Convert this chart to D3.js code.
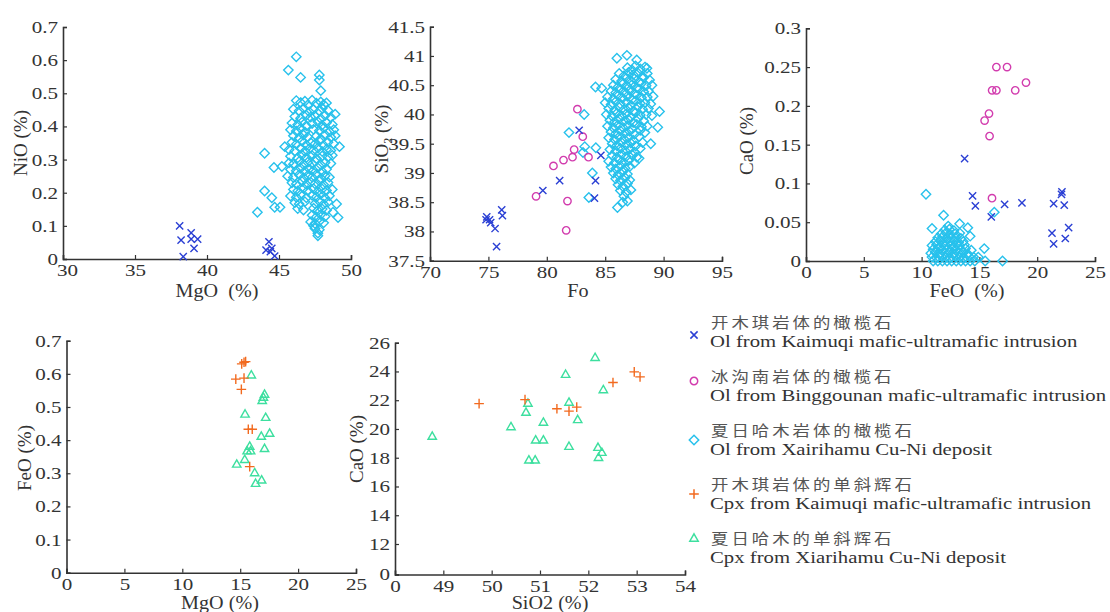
<!DOCTYPE html>
<html><head><meta charset="utf-8">
<script src="https://cdn.jsdelivr.net/npm/d3@7"></script>
<style>body{margin:0;background:#fff} svg{display:block;background:#fff}</style>
</head><body><svg id="c" width="1110" height="612"></svg>
<script>
// ---------------- DATA ----------------
const seriesNames = ["olKaimuqi", "olBinggounan", "olXiarihamu", "cpxKaimuqi", "cpxXiarihamu"];
const legendCN = ["开木琪岩体的橄榄石", "冰沟南岩体的橄榄石", "夏日哈木岩体的橄榄石", "开木琪岩体的单斜辉石", "夏日哈木的单斜辉石"];
const legendEN = ["Ol from Kaimuqi mafic-ultramafic intrusion", "Ol from Binggounan mafic-ultramafic intrusion", "Ol from Xairihamu Cu-Ni deposit", "Cpx from Kaimuqi mafic-ultramafic intrusion", "Cpx from Xiarihamu Cu-Ni deposit"];

// Panel 1: MgO (%) vs NiO (%)
const p1Kaimuqi = [[38.1,0.10],[38.2,0.057],[38.9,0.079],[38.9,0.06],[39.35,0.06],[39.1,0.032],[38.35,0.007],[44.3,0.052],[44.1,0.027],[44.5,0.032],[44.4,0.022],[44.7,0.009]];
const p1Xiarihamu = [[46.2,0.61],[45.65,0.57],[46.5,0.548],[47.8,0.555],[47.8,0.54],[47.9,0.508],[44.0,0.319],[44.0,0.205],[44.5,0.185],[43.5,0.141],[44.7,0.156],[45.07,0.156],[44.65,0.276],[45.4,0.339],[45.2,0.279],[48.9,0.437],[49.2,0.339],[49.0,0.166],[49.1,0.125],[48.75,0.141],[47.7,0.07],[47.4,0.10],
[46.2,.478],[46.5,.472],[46.8,.476],[47.0,.465],[47.3,.479],[47.6,.47],[47.9,.474],[48.1,.466],[48.3,.471],
[46.0,.452],[46.4,.447],[46.7,.455],[47.1,.444],[47.4,.451],[47.8,.446],[48.0,.455],[48.4,.448],
[46.1,.43],[46.5,.425],[46.9,.434],[47.2,.428],[47.5,.432],[47.9,.424],[48.2,.433],[48.6,.427],
[45.9,.41],[46.3,.405],[46.6,.413],[46.9,.402],[47.3,.409],[47.7,.414],[48.0,.404],[48.3,.411],[48.7,.406],
[45.8,.39],[46.2,.386],[46.5,.394],[46.8,.383],[47.4,.391],[47.8,.387],[48.1,.395],[48.5,.384],[48.8,.39],
[46.0,.372],[46.4,.365],[46.7,.374],[47.0,.368],[47.6,.371],[47.9,.363],[48.2,.375],[48.6,.367],[48.9,.372],
[45.9,.352],[46.2,.346],[46.6,.355],[46.9,.344],[47.2,.351],[47.5,.347],[47.8,.356],[48.1,.343],[48.4,.352],[48.8,.348],
[45.7,.33],[46.1,.326],[46.5,.334],[46.8,.325],[47.1,.333],[47.4,.328],[47.7,.335],[48.0,.324],[48.3,.331],[48.6,.327],
[45.8,.31],[46.3,.305],[46.6,.314],[46.9,.306],[47.3,.312],[47.6,.303],[48.0,.311],[48.4,.307],[48.7,.313],
[45.7,.29],[46.0,.286],[46.4,.294],[46.7,.285],[47.0,.292],[47.3,.287],[47.5,.295],[47.9,.284],[48.2,.291],[48.6,.288],
[45.8,.27],[46.2,.266],[46.5,.274],[46.8,.265],[47.1,.272],[47.4,.267],[47.7,.275],[48.0,.264],[48.3,.271],
[45.6,.25],[46.0,.246],[46.4,.254],[46.7,.245],[47.0,.252],[47.3,.247],[47.6,.255],[47.9,.244],[48.2,.251],[48.5,.247],
[45.9,.23],[46.2,.226],[46.6,.234],[46.9,.225],[47.2,.232],[47.5,.227],[47.8,.235],[48.1,.224],[48.4,.231],
[46.0,.21],[46.3,.205],[46.7,.213],[47.0,.206],[47.4,.212],[47.7,.204],[48.0,.211],[48.3,.207],[48.7,.21],
[45.8,.19],[46.2,.186],[46.5,.194],[46.9,.185],[47.3,.192],[47.6,.187],[47.9,.195],[48.2,.184],[48.5,.191],
[46.1,.17],[46.4,.166],[46.8,.173],[47.5,.167],[47.8,.174],[48.1,.165],[48.4,.172],
[46.3,.152],[46.7,.148],[47.4,.153],[47.7,.146],[48.0,.151],[48.3,.147],
[47.3,.132],[47.6,.127],[47.9,.134],[48.2,.128],
[47.2,.112],[47.5,.107],[47.8,.114],[48.1,.109],
[47.5,.092],[47.8,.088],[47.7,.078]];

// Panel 2: Fo vs SiO2 (%)
const p2Kaimuqi = [[74.86,38.25],[75.1,38.2],[74.8,38.2],[75.2,38.15],[76.14,38.37],[76.2,38.27],[75.57,38.05],[75.7,37.74],[79.66,38.7],[81.1,38.87],[82.77,39.73],[84.63,39.3],[84.17,38.87],[84.08,38.57]];
const p2Binggounan = [[82.62,40.09],[83.08,39.62],[82.34,39.4],[82.2,39.27],[81.43,39.22],[80.57,39.12],[83.57,39.27],[79.08,38.6],[81.77,38.52],[81.66,38.02]];
const p2Xiarihamu = [[83.2,40.0],[81.9,39.69],[83.25,39.45],[83.1,39.35],[83.9,39.0],[83.6,38.58],[84.2,39.43],[86.05,38.41],[86.5,38.5],[86.9,38.52],[86.0,40.96],[86.86,41.01],[87.7,40.93],[88.57,40.79],[89.65,40.05],[89.5,39.78],[88.9,39.5],[87.9,39.25],[84.17,40.47],[84.7,40.45],
[86.9,40.8],[87.3,40.76],[87.6,40.83],[88.0,40.78],[88.4,40.81],
[86.2,40.7],[86.6,40.66],[87.0,40.72],[87.4,40.68],[87.8,40.71],[88.2,40.65],[88.6,40.7],
[85.9,40.6],[86.4,40.57],[86.8,40.62],[87.2,40.58],[87.5,40.61],[87.9,40.56],[88.3,40.63],[88.8,40.59],
[85.7,40.5],[86.1,40.47],[86.5,40.52],[86.9,40.48],[87.3,40.51],[87.7,40.46],[88.1,40.53],[88.5,40.49],[89.0,40.5],
[85.5,40.4],[85.9,40.37],[86.3,40.42],[86.7,40.38],[87.1,40.41],[87.5,40.36],[87.9,40.43],[88.3,40.39],[88.7,40.4],
[85.2,40.3],[85.7,40.27],[86.1,40.32],[86.5,40.28],[86.9,40.31],[87.3,40.26],[87.7,40.33],[88.1,40.29],[88.6,40.3],[89.1,40.31],
[85.0,40.2],[85.5,40.17],[85.9,40.22],[86.3,40.18],[86.8,40.21],[87.2,40.16],[87.6,40.23],[88.0,40.19],[88.4,40.2],[88.9,40.18],
[85.3,40.1],[85.8,40.07],[86.2,40.12],[86.6,40.08],[87.0,40.11],[87.4,40.06],[87.8,40.13],[88.2,40.09],[88.7,40.1],
[85.1,40.0],[85.6,39.97],[86.0,40.02],[86.4,39.98],[86.8,40.01],[87.2,39.96],[87.6,40.03],[88.0,39.99],[88.5,40.0],[89.0,39.98],
[85.4,39.9],[85.8,39.87],[86.2,39.92],[86.6,39.88],[87.0,39.91],[87.4,39.86],[87.8,39.93],[88.3,39.89],
[85.2,39.8],[85.7,39.77],[86.1,39.82],[86.5,39.78],[86.9,39.81],[87.3,39.76],[87.7,39.83],[88.1,39.79],[88.6,39.8],
[85.5,39.7],[85.9,39.67],[86.3,39.72],[86.7,39.68],[87.1,39.71],[87.5,39.66],[88.0,39.73],[88.4,39.69],
[85.3,39.6],[85.8,39.57],[86.2,39.62],[86.6,39.58],[87.0,39.61],[87.4,39.56],[87.9,39.62],
[85.6,39.5],[86.0,39.47],[86.4,39.52],[86.8,39.48],[87.2,39.51],[87.6,39.46],[88.2,39.52],
[85.4,39.4],[85.9,39.37],[86.3,39.42],[86.7,39.38],[87.1,39.41],[87.5,39.36],[88.0,39.42],
[85.6,39.3],[86.0,39.27],[86.4,39.32],[86.8,39.28],[87.3,39.31],[87.7,39.27],
[85.3,39.2],[85.8,39.17],[86.2,39.22],[86.6,39.18],[87.0,39.21],[87.5,39.17],
[85.5,39.1],[85.9,39.07],[86.3,39.12],[86.7,39.08],[87.1,39.11],
[85.7,39.0],[86.1,38.97],[86.5,39.02],[86.9,38.98],
[85.9,38.9],[86.3,38.87],[86.7,38.92],[87.1,38.88],
[86.1,38.8],[86.5,38.77],[86.9,38.82],
[86.3,38.7],[86.8,38.67],[87.2,38.71],
[86.6,38.6]];

// Panel 3: FeO (%) vs CaO (%)
const p3Kaimuqi = [[13.72,0.132],[14.41,0.084],[14.65,0.071],[16.03,0.057],[17.18,0.073],[18.68,0.075],[21.42,0.074],[22.14,0.089],[22.1,0.086],[22.34,0.072],[21.28,0.036],[21.42,0.022],[22.43,0.029],[22.72,0.043]];
const p3Binggounan = [[16.47,0.25],[17.39,0.25],[16.1,0.22],[16.47,0.22],[18.1,0.22],[19.03,0.23],[15.83,0.19],[15.45,0.181],[15.88,0.161],[16.09,0.081]];
const p3Xiarihamu = [[10.38,0.086],[11.9,0.059],[10.9,0.042],[13.29,0.048],[14.0,0.043],[14.2,0.032],[16.29,0.063],[15.42,0.016],[15.5,0],[17.0,0],[14.9,0.005],
[11.0,0],[11.4,0],[11.8,0],[12.2,0],[12.6,0],[13.0,0],[13.4,0],[13.8,0],[14.2,0],[14.6,0],
[10.9,.005],[11.3,.004],[11.7,.006],[12.1,.005],[12.5,.004],[12.9,.006],[13.3,.005],[13.7,.004],[14.1,.006],[14.5,.005],
[10.8,.01],[11.2,.011],[11.6,.009],[12.0,.01],[12.4,.011],[12.8,.009],[13.2,.01],[13.6,.011],[14.0,.009],
[11.0,.015],[11.4,.016],[11.8,.014],[12.2,.015],[12.6,.016],[13.0,.014],[13.4,.015],[13.8,.016],[14.3,.014],
[10.9,.02],[11.3,.021],[11.7,.019],[12.1,.02],[12.5,.021],[12.9,.019],[13.3,.02],[13.7,.021],
[11.2,.025],[11.6,.026],[12.0,.024],[12.4,.025],[12.8,.026],[13.2,.024],[13.6,.025],
[11.4,.03],[11.8,.031],[12.2,.029],[12.6,.03],[13.0,.031],[13.4,.029],
[11.7,.035],[12.1,.036],[12.5,.034],[12.9,.035],[13.3,.036],
[12.0,.04],[12.4,.041],[12.8,.039],
[12.3,.045]];

// Panel 4: MgO (%) vs FeO (%) (Cpx)
const p4CpxKaimuqi = [[15.33,0.635],[15.47,0.637],[15.13,0.63],[14.62,0.584],[15.33,0.587],[15.1,0.553],[15.7,0.433],[16.04,0.433],[15.82,0.32]];
const p4CpxXiarihamu = [[15.96,0.597],[17.1,0.539],[17.0,0.53],[16.9,0.52],[15.42,0.479],[17.2,0.469],[17.54,0.421],[16.82,0.412],[17.1,0.375],[15.82,0.382],[15.6,0.368],[15.9,0.368],[15.39,0.342],[14.7,0.328],[16.25,0.302],[16.85,0.28],[16.33,0.27]];

// Panel 5: SiO2 (%) vs CaO (%) (Cpx)
const p5CpxKaimuqi = [[49.74,21.76],[50.69,22.04],[51.35,21.41],[51.6,21.24],[51.76,21.52],[52.51,23.23],[52.95,23.97],[53.07,23.62]];
const p5CpxXiarihamu = [[48.77,19.5],[50.75,21.8],[50.71,21.17],[50.4,20.17],[51.07,20.48],[50.91,19.24],[51.07,19.24],[50.77,17.85],[50.9,17.85],[51.53,23.81],[52.14,24.98],[51.6,21.87],[51.78,20.66],[51.6,18.8],[52.31,22.74],[52.2,18.73],[52.28,18.38],[52.21,18.03]];

// Tick values
const p1XTicks = [30,35,40,45,50], p1YTicks = [0,0.1,0.2,0.3,0.4,0.5,0.6,0.7];
const p2XTicks = [70,75,80,85,90,95], p2YTicks = [37.5,38,38.5,39,39.5,40,40.5,41,41.5];
const p3XTicks = [0,5,10,15,20,25], p3YTicks = [0,0.05,0.1,0.15,0.2,0.25,0.3];
const p4XTicks = [0,5,10,15,20,25], p4YTicks = [0,0.1,0.2,0.3,0.4,0.5,0.6,0.7];
const p5XTicks = [0,49,50,51,52,53,54], p5YTicks = [0,12,14,16,18,20,22,24,26];

// ---------------- STYLE ----------------
const colors = {olKaimuqi:"#2a3fd4", olBinggounan:"#d23cae", olXiarihamu:"#27c1ec", cpxKaimuqi:"#f26a1f", cpxXiarihamu:"#3ddf9f"};
const markerOf = {olKaimuqi:"times", olBinggounan:"circle", olXiarihamu:"diamond", cpxKaimuqi:"plus", cpxXiarihamu:"triangle"};
const AX = "#333";
const SERIF = "'Liberation Serif','Times New Roman',serif";

function markerPath(type){
  switch(type){
    case "times": {const h=3.6; return `M${-h},${-h}L${h},${h}M${-h},${h}L${h},${-h}`;}
    case "plus": {const h=4.8; return `M${-h},0L${h},0M0,${-h}L0,${h}`;}
    case "diamond": {const h=4.7; return `M0,${-h}L${h},0L0,${h}L${-h},0Z`;}
    case "triangle": {const h=4.2; return `M0,${-h}L${h},${h*0.75}L${-h},${h*0.75}Z`;}
    case "circle": {const r=3.7; return `M${r},0A${r},${r},0,1,1,${-r},0A${r},${r},0,1,1,${r},0Z`;}
  }
}

const svg = d3.select("#c");
const fmt = d => String(+(+d).toFixed(3));

function widen(sel, s, dx){
  sel.each(function(d, i){
    const t = d3.select(this);
    const x = (+t.attr("x") || 0) + (dx ? dx(d, i) : 0), y = +t.attr("y") || 0;
    t.attr("x", null).attr("y", null).attr("transform", `translate(${x},${y}) scale(${s},1)`);
  });
}

function panel(cfg){
  const g = svg.append("g");
  const xa = g.append("g").attr("transform", `translate(0,${cfg.y.range()[0]})`)
    .call(d3.axisBottom(cfg.x).tickValues(cfg.xTicks).tickFormat(fmt).tickSizeInner(-4).tickSizeOuter(-4).tickPadding(5));
  const ya = g.append("g").attr("transform", `translate(${cfg.x.range()[0]},0)`)
    .call(d3.axisLeft(cfg.y).tickValues(cfg.yTicks).tickFormat(fmt).tickSizeInner(-4).tickSizeOuter(-4).tickPadding(5));
  [xa, ya].forEach(a => {
    a.attr("font-family", null).attr("font-size", null);
    a.select(".domain").attr("stroke", AX).attr("stroke-width", 1.6);
    a.selectAll(".tick line").attr("stroke", AX).attr("stroke-width", 1.2);
    a.selectAll(".tick text").attr("fill", "#333").style("font-family", SERIF).style("font-size", "17px");
  });
  widen(xa.selectAll(".tick text"), 1.24, (d, i) => (i === 0 ? (cfg.firstXShift || 0) : 0));
  widen(ya.selectAll(".tick text"), 1.24);
  const xt = g.append("text").attr("x", cfg.xTitlePos[0]).attr("y", cfg.xTitlePos[1])
    .attr("text-anchor", "middle").style("font-family", SERIF).style("font-size", "18px")
    .style("white-space", "pre").attr("fill", "#333").text(cfg.xTitle);
  widen(xt, 1.12);
  const yt = g.append("text").attr("transform", `translate(${cfg.yTitlePos[0]},${cfg.yTitlePos[1]}) rotate(-90)`)
    .attr("text-anchor", "middle").style("font-family", SERIF).style("font-size", "19px").attr("fill", "#333");
  cfg.yTitle.forEach(part => {
    const ts = yt.append("tspan").text(part.t);
    if (part.sub) ts.style("font-size", "12px").attr("dy", 4);
    if (part.after) ts.attr("dy", -4);
  });
  cfg.series.forEach(s => {
    g.append("g").selectAll("path").data(s.data).join("path")
      .attr("d", markerPath(markerOf[s.name]))
      .attr("transform", d => `translate(${cfg.x(d[0])},${cfg.y(d[1])})`)
      .attr("fill", "none").attr("stroke", colors[s.name]).attr("stroke-width", 1.4);
  });
}

panel({
  x: d3.scaleLinear().domain([30,50]).range([63,351]),
  y: d3.scaleLinear().domain([0,0.7]).range([259,27]),
  xTicks: p1XTicks, yTicks: p1YTicks, firstXShift: 4,
  xTitle: "MgO  (%)", xTitlePos: [217,297],
  yTitle: [{t:"NiO (%)"}], yTitlePos: [27,143],
  series: [{name:"olXiarihamu", data:p1Xiarihamu},{name:"olKaimuqi", data:p1Kaimuqi}]
});
panel({
  x: d3.scaleLinear().domain([70,95]).range([430,722]),
  y: d3.scaleLinear().domain([37.5,41.5]).range([260.7,26.7]),
  xTicks: p2XTicks, yTicks: p2YTicks,
  xTitle: "Fo", xTitlePos: [578,297],
  yTitle: [{t:"SiO"},{t:"2",sub:true},{t:" (%)",after:true}], yTitlePos: [388,139],
  series: [{name:"olXiarihamu", data:p2Xiarihamu},{name:"olBinggounan", data:p2Binggounan},{name:"olKaimuqi", data:p2Kaimuqi}]
});
panel({
  x: d3.scaleLinear().domain([0,25]).range([806,1095]),
  y: d3.scaleLinear().domain([0,0.3]).range([261,28.3]),
  xTicks: p3XTicks, yTicks: p3YTicks,
  xTitle: "FeO  (%)", xTitlePos: [967,297],
  yTitle: [{t:"CaO (%)"}], yTitlePos: [753,141],
  series: [{name:"olXiarihamu", data:p3Xiarihamu},{name:"olBinggounan", data:p3Binggounan},{name:"olKaimuqi", data:p3Kaimuqi}]
});
panel({
  x: d3.scaleLinear().domain([0,25]).range([66.5,356]),
  y: d3.scaleLinear().domain([0,0.7]).range([572.7,340.7]),
  xTicks: p4XTicks, yTicks: p4YTicks,
  xTitle: "MgO (%)", xTitlePos: [220,609],
  yTitle: [{t:"FeO (%)"}], yTitlePos: [31,458],
  series: [{name:"cpxXiarihamu", data:p4CpxXiarihamu},{name:"cpxKaimuqi", data:p4CpxKaimuqi}]
});
panel({
  x: d3.scaleLinear().domain([0,48,54]).range([395,395,685]),
  y: d3.scaleLinear().domain([0,12,26]).range([574.5,544,342.7]),
  xTicks: p5XTicks, yTicks: p5YTicks,
  xTitle: "SiO2 (%)", xTitlePos: [550,609],
  yTitle: [{t:"CaO (%)"}], yTitlePos: [363,449],
  series: [{name:"cpxXiarihamu", data:p5CpxXiarihamu},{name:"cpxKaimuqi", data:p5CpxKaimuqi}]
});

// ---------------- LEGEND ----------------
const leg = svg.append("g");
const markerDy = [7, -1, 4, 4, -6];
seriesNames.forEach((name, i) => {
  const by = 328 + i * 54;
  leg.append("path").attr("d", markerPath(markerOf[name]))
    .attr("transform", `translate(694,${by + markerDy[i]})`)
    .attr("fill", "none").attr("stroke", colors[name]).attr("stroke-width", 1.5);
  const cn = leg.append("text").attr("x", 711).attr("y", by)
    .style("font-family", "'Noto Sans CJK SC',sans-serif").style("font-size", "14.5px")
    .style("letter-spacing", "2.5px").attr("fill", "#555").text(legendCN[i]);
  widen(cn, 1.2);
  const en = leg.append("text").attr("x", 710).attr("y", by + 19)
    .style("font-family", SERIF).style("font-size", "17px").attr("fill", "#333").text(legendEN[i]);
  widen(en, 1.22);
});
</script></body></html>
